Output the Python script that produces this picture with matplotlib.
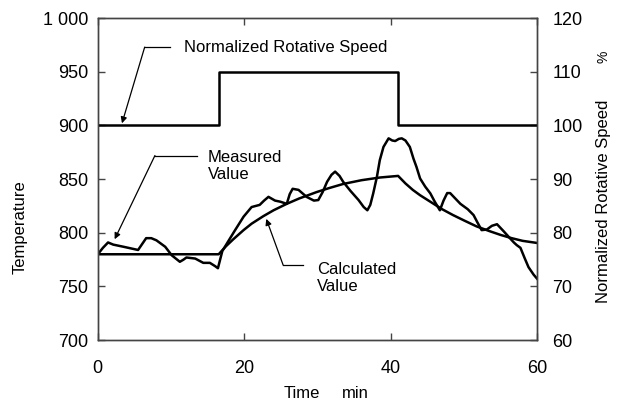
import numpy as np
import matplotlib
matplotlib.use("Agg")
import matplotlib.pyplot as plt

plt.rcParams["font.family"] = ["Liberation Sans", "DejaVu Sans"]
plt.rcParams["font.size"] = 12

# speed step (percent, right axis)
speed_t = [0, 16.5, 16.5, 41, 41, 60]
speed_pct = [100, 100, 110, 110, 100, 100]

# calculated temperature
calc_t = [0, 16.5, 17.5, 18.5, 19.9, 21.0, 22.6, 24.0, 25.8, 27.5, 29.9, 31.5, 33.5, 36.0, 38.5, 41.0,
          42.0, 43.0, 44.0, 45.5, 47.0, 48.5, 50.0, 51.7, 53.5, 55.0, 56.5, 58.0, 60.0]
calc_T = [780, 780, 787.5, 794, 802.5, 808.5, 815.5, 821, 827, 832, 838, 841.5, 845.5, 849, 851.5, 853,
          846, 840, 835, 828.5, 822, 816.5, 811.5, 806, 801.5, 798, 795, 792.5, 790.5]

# measured temperature
meas_t = [0, 0.7, 1.4, 2.1, 3.5, 5.5, 6.0, 6.6, 7.3, 8.0, 9.2, 10.1, 11.2, 11.7, 12.1, 13.3, 14.4, 15.3,
          16.0, 16.4, 16.7, 17.0, 17.8, 18.7, 19.9, 21.0, 22.1, 22.7, 23.3, 24.2, 24.9, 25.8, 26.2, 26.6,
          27.4, 28.5, 29.5, 30.1, 30.7, 31.3, 31.9, 32.4, 33.0, 33.5, 34.5, 35.6, 36.3, 36.8, 37.2, 37.6,
          38.1, 38.5, 39.0, 39.7, 40.2, 40.6, 41.1, 41.5, 42.0, 42.6, 43.1, 43.5, 44.0, 44.7, 45.4, 46.0,
          46.7, 47.2, 47.7, 48.1, 48.8, 49.5, 50.5, 51.3, 51.8, 52.4, 53.1, 53.8, 54.5, 55.4, 56.3, 56.8,
          57.2, 57.7, 58.3, 58.8, 59.5, 60.0]
meas_T = [780, 786, 791, 789, 787, 784, 789, 795, 795, 793, 787, 779, 773, 775, 777, 776, 772, 772,
          769, 767, 775, 783, 792, 802, 815, 824, 826, 830, 833.5, 830, 829, 827, 836, 841,
          840, 833.5, 830, 830.5, 838, 847.5, 854, 857, 853, 847.5, 839, 830.5, 824, 821, 826, 836.7,
          852, 867.7, 880, 888, 886, 885.5, 887.5, 888, 886, 880, 869, 861.5, 850.6, 843, 836.7, 829,
          821, 830, 837, 837, 832, 827, 822, 816.5, 810, 802.5, 803, 806.5, 808, 801.5, 794.7, 791,
          788.5, 786, 776, 768, 761, 757]

left_ticks = [700, 750, 800, 850, 900, 950, 1000]
left_labels = ["700", "750", "800", "850", "900", "950", "1 000"]
right_ticks = [60, 70, 80, 90, 100, 110, 120]
x_ticks = [0, 20, 40, 60]

fig = plt.figure(figsize=(6.19, 4.03), dpi=100)
ax = fig.add_axes([0.158, 0.156, 0.71, 0.799])
ax2 = ax.twinx()

ax.plot(calc_t, calc_T, color="k", lw=1.8, solid_joinstyle="round")
ax.plot(meas_t, meas_T, color="k", lw=1.8, solid_joinstyle="round")
ax2.plot(speed_t, speed_pct, color="k", lw=1.8)

ax.set_xlim(0, 60)
ax.set_ylim(700, 1000)
ax2.set_ylim(60, 120)
ax.set_xticks(x_ticks)
ax.set_yticks(left_ticks)
ax.set_yticklabels(left_labels)
ax2.set_yticks(right_ticks)

for a in (ax, ax2):
    for s in a.spines.values():
        s.set_color("#444444")
        s.set_linewidth(1.0)
ax.tick_params(axis="both", direction="in", length=5, width=1, color="#444444", labelsize=13)
ax.tick_params(axis="x", top=True, pad=14)
ax.tick_params(axis="y", pad=7)
ax2.tick_params(axis="y", direction="in", length=5, width=1, color="#444444", labelsize=13, pad=11)

# axis labels
ax.text(-0.176, 0.35, "Temperature", transform=ax.transAxes, rotation=90, ha="center", va="center", fontsize=12)
ax2.text(1.15, 0.43, "Normalized Rotative Speed", transform=ax.transAxes, rotation=90, ha="center", va="center", fontsize=12)
ax2.text(1.15, 0.88, "%", transform=ax.transAxes, rotation=90, ha="center", va="center", fontsize=10)
ax.text(0.465, -0.165, "Time", transform=ax.transAxes, ha="center", va="center", fontsize=12)
ax.text(0.585, -0.165, "min", transform=ax.transAxes, ha="center", va="center", fontsize=12)

# annotations
arrow = dict(arrowstyle="-|>", color="k", lw=0.9, mutation_scale=9, shrinkA=0, shrinkB=0)
ax.plot([6.4, 9.8], [973, 973], color="k", lw=0.9)
ax.annotate("", xy=(3.3, 902), xytext=(6.4, 973), arrowprops=arrow)
ax.text(11.7, 973, "Normalized Rotative Speed", ha="left", va="center", fontsize=12)

ax.plot([7.8, 13.5], [872, 872], color="k", lw=0.9)
ax.annotate("", xy=(2.3, 794), xytext=(7.8, 872), arrowprops=arrow)
ax.text(15.0, 862, "Measured\nValue", ha="left", va="center", fontsize=12, linespacing=1.2)

ax.plot([25.3, 28.0], [770, 770], color="k", lw=0.9)
ax.annotate("", xy=(23.0, 813), xytext=(25.3, 770), arrowprops=arrow)
ax.text(29.9, 758, "Calculated\nValue", ha="left", va="center", fontsize=12, linespacing=1.2)

fig.savefig("out.png", dpi=100)
